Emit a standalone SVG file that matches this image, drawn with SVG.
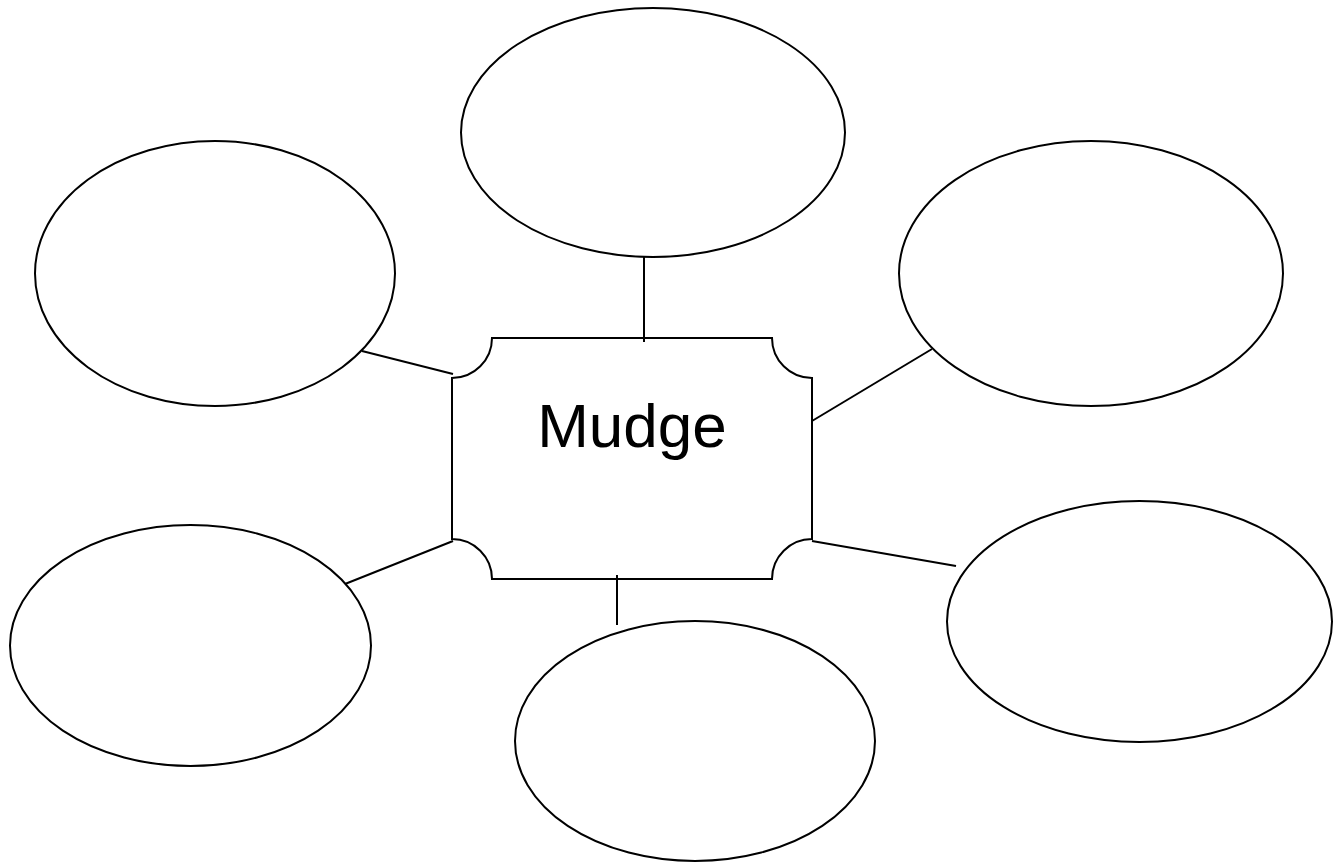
<svg xmlns="http://www.w3.org/2000/svg" width="1342" height="863" viewBox="0 0 1342 863">
<style>
.n{fill:#fff;stroke:#000;stroke-width:2}
.c line{stroke:#000;stroke-width:2}
.t{font-family:"Liberation Sans",Arial,sans-serif;font-size:62px;fill:#000}
</style>
<rect width="1342" height="863" fill="#fff"/>
<g id="center">
<path class="n" d="M492,338 H772 A40,40 0 0 0 812,378 V539 A40,40 0 0 0 772,579 H492 A40,40 0 0 0 452,539 V378 A40,40 0 0 0 492,338 Z"/>
<text class="t" x="632" y="447" text-anchor="middle">Mudge</text>
</g>
<g id="e1"><ellipse class="n" cx="653" cy="132.5" rx="192" ry="124.5"/></g>
<g id="e2"><ellipse class="n" cx="215" cy="273.5" rx="180" ry="132.5"/></g>
<g id="e3"><ellipse class="n" cx="1091" cy="273.5" rx="192" ry="132.5"/></g>
<g id="e4"><ellipse class="n" cx="190.5" cy="645.5" rx="180.5" ry="120.5"/></g>
<g id="e5"><ellipse class="n" cx="695" cy="741" rx="180" ry="120"/></g>
<g id="e6"><ellipse class="n" cx="1139.5" cy="621.5" rx="192.5" ry="120.5"/></g>
<g class="c" id="connectors">
<line x1="644" y1="257" x2="644" y2="342"/>
<line x1="362" y1="351" x2="453" y2="374"/>
<line x1="932" y1="349" x2="812" y2="421"/>
<line x1="345" y1="584" x2="453" y2="541"/>
<line x1="617" y1="575" x2="617" y2="625"/>
<line x1="812" y1="541" x2="956" y2="566"/>
</g>
</svg>
